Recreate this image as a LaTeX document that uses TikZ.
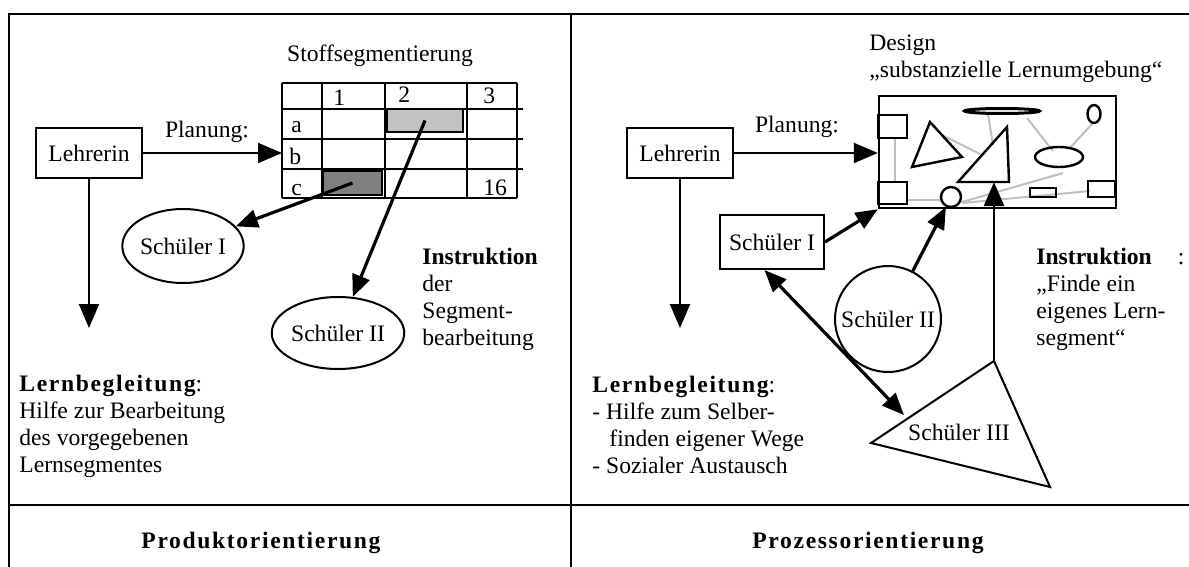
\documentclass[tikz,border=0pt]{standalone}
\usepackage{fontspec}
\setmainfont{Liberation Serif}
\newfontfamily\spacedfont{Liberation Serif}[LetterSpace=7]
\usepackage{xcolor}
\usetikzlibrary{arrows.meta,positioning,shapes.geometric}

\definecolor{paleGray}{gray}{0.76}
\definecolor{darkGray}{gray}{0.5}
\definecolor{linkGray}{gray}{0.75}

\tikzset{
  frame/.style={line width=1pt},
  tabline/.style={line width=0.9pt},
  box/.style={draw,line width=1pt,inner sep=0pt,minimum width=53pt,minimum height=25pt},
  blob/.style={draw,ellipse,line width=1pt,inner sep=0pt},
  txt/.style={inner sep=0pt,align=left},
  arr/.style={line width=1pt,-{Triangle[length=12pt,width=10pt]}},
  thickarr/.style={line width=1.6pt,-{Triangle[length=11pt,width=9pt]}},
  link/.style={line width=1pt,linkGray},
  figure/.style={line width=1.2pt}
}

\begin{document}
\begin{tikzpicture}[x=0.5pt,y=-0.5pt,font=\fontsize{11.8}{13.5}\selectfont]
\useasboundingbox (0,0) rectangle (1189,567);

% frame
\draw[frame] (9,567) -- (9,14) -- (1189,14);
\draw[frame] (571,14) -- (571,567);
\draw[frame] (9,505) -- (1189,505);

%%%% left half
\node[box] (lehrerA) at (89,153) {Lehrerin};
\node[inner sep=0pt] (planungA) at (207,132) {Planung:};
\node[inner sep=0pt] (stoff) at (380,56) {Stoffsegmentierung};

% table
\coordinate (tabW) at (282,83);
\foreach \x in {282,322,385,467,517}
  \draw[tabline] (\x,83) -- (\x,198);
\draw[tabline] (282,83) -- (517,83) (282,198) -- (517,198);
\foreach \y in {109,139,169}
  \draw[tabline] (282,\y) -- (523,\y);
\node[draw,line width=1pt,fill=paleGray,inner sep=0pt,minimum width=38pt,minimum height=11.5pt] (light) at (425,120.5) {};
\node[draw,line width=1pt,fill=darkGray,inner sep=0pt,minimum width=29.5pt,minimum height=12pt] (dark) at (352.5,183) {};
\begin{scope}[every node/.style={inner sep=0pt,anchor=base west}]
  \node (colA) at (333,106) {1};
  \node (colB) at (398,103) {2};
  \node (colC) at (483,104) {3};
  \node (rowA) at (291,133) {a};
  \node (rowB) at (289,164) {b};
  \node (rowC) at (291,195) {c};
  \node (last) at (483,195) {16};
\end{scope}

\node[blob,minimum width=60pt,minimum height=37pt] (schuelerA) at (183,246) {Schüler I};
\node[blob,minimum width=63pt,minimum height=36pt] (schuelerB) at (338,333) {Schüler II};

\node[txt,anchor=north west] (instrA) at (422,248) {\textbf{Instruktion}\\der\\Segment-\\bearbeitung};
\node[txt,anchor=north west] (begleitA) at (19,375) {{\spacedfont\bfseries Lernbegleitung}:\\Hilfe zur Bearbeitung\\des vorgegebenen\\Lernsegmentes};
\node[inner sep=0pt] (prod) at (261,543) {\spacedfont\bfseries Produktorientierung};

\coordinate (endA) at (0,328);
\draw[arr] (lehrerA.east) -- (lehrerA.east -| tabW);
\draw[arr] (lehrerA.south) -- (lehrerA.south |- endA);
\draw[thickarr] (dark.center) -- (schuelerA);
\draw[thickarr] (light.center) -- (schuelerB);

%%%% right half
\node[box] (lehrerB) at (680,153) {Lehrerin};
\node[inner sep=0pt] (planungB) at (797,127) {Planung:};
\node[txt,anchor=north west] (designlbl) at (869,34) {Design\\„substanzielle Lernumgebung“};

% design box
\node[draw,line width=1.2pt,inner sep=0pt,minimum width=118.5pt,minimum height=56pt] (design) at (997.5,152) {};
\draw[link] (895,138) -- (895,182);
\draw[link] (907,200) -- (941,200);
\draw[link] (962,202) -- (1063,173);
\draw[link] (962,203) -- (1090,191);
\draw[link] (942,135) -- (982,155);
\draw[link] (988,114) -- (993,145);
\draw[link] (1027,118) -- (1053,151);
\draw[link] (1093,123) -- (1069,149);
\draw[figure] (878,115) rectangle (907,138);
\draw[figure] (878,182) rectangle (907,204);
\draw[figure] (1030,188) rectangle (1056,197);
\draw[figure] (1088,181) rectangle (1115,197);
\draw[figure] (930,122) -- (912,167) -- (962,157) -- cycle;
\draw[figure] (1007,127) -- (958,182) -- (1009,182) -- cycle;
\draw[line width=1.5pt] (1002,111) ellipse [x radius=37.5,y radius=2.5];
\draw[figure] (1094,114) ellipse [x radius=6.5,y radius=9];
\draw[figure] (1059,157) ellipse [x radius=24,y radius=10];
\node[draw,circle,line width=1.2pt,inner sep=0pt,minimum size=10pt,fill=white] (dot) at (951,197) {};
\coordinate (triBase) at (994,182);

\node[box,minimum width=52pt,minimum height=27pt] (schuelerC) at (772,242) {Schüler I};
\node[draw,circle,line width=1pt,inner sep=0pt,minimum size=53pt] (schuelerD) at (888,319) {Schüler II};
\coordinate (triTop) at (994,361);
\coordinate (triLeft) at (871,443);
\coordinate (triRight) at (1050,487);
\coordinate (triTip) at (904,415);
\draw[line width=1pt] (triTop) -- (triLeft) -- (triRight) -- cycle;
\node[inner sep=0pt] (schuelerE) at (959,432) {Schüler III};

\node[txt,anchor=north west] (instrB) at (1036,248) {\textbf{Instruktion}\hspace*{13pt}:\\„Finde ein\\eigenes Lern-\\segment“};
\node[txt,anchor=north west] (begleitB) at (592,376) {{\spacedfont\bfseries Lernbegleitung}:\\- Hilfe zum Selber-\\\hspace*{8.5pt}finden eigener Wege\\- Sozialer Austausch};
\node[inner sep=0pt] (proz) at (868,543) {\spacedfont\bfseries Prozessorientierung};

\coordinate (endB) at (0,328);
\draw[arr] (lehrerB.east) -- (lehrerB.east -| design.west);
\draw[arr] (lehrerB.south) -- (lehrerB.south |- endB);
\draw[thickarr] (schuelerC.east) -- (design.south west);
\draw[thickarr] (schuelerD) -- (dot);
\draw[arr] (triTop) -- (triBase);
\draw[thickarr,{Triangle[length=11pt,width=9pt]}-{Triangle[length=11pt,width=9pt]}] (schuelerC.255) -- (triTip);
\end{tikzpicture}
\end{document}
